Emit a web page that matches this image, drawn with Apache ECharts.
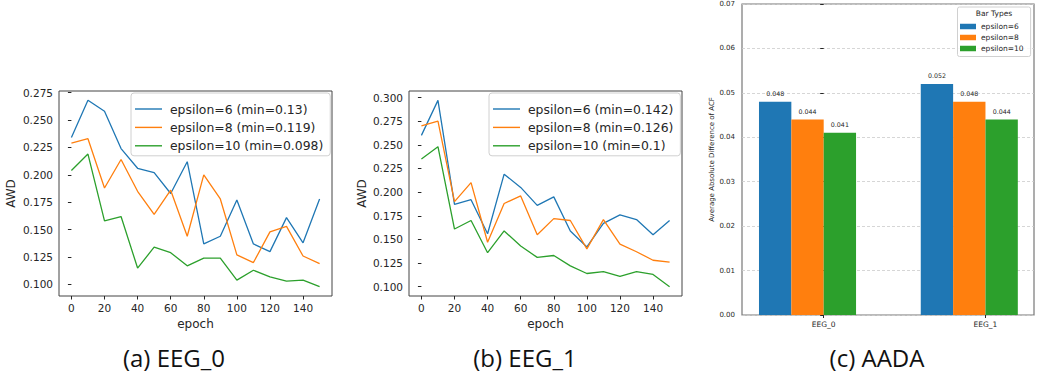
<!DOCTYPE html>
<html>
<head>
<meta charset="utf-8">
<style>
    html, body { margin: 0; padding: 0; background: #fff; }
    #chart { width: 1041px; height: 373px; }
</style>
<script src="https://cdn.jsdelivr.net/npm/echarts@6.0.0/dist/echarts.min.js"></script>
</head>
<body>
<div id="chart"></div>
<script>
    // epochs shared by (a) and (b)
    var epochs = [0, 10, 20, 30, 40, 50, 60, 70, 80, 90, 100, 110, 120, 130, 140, 150];

    // (a) EEG_0
    var eeg0Eps6 = [0.234, 0.268, 0.258, 0.224, 0.206, 0.202, 0.183, 0.212, 0.137, 0.144, 0.177, 0.137, 0.130, 0.161, 0.138, 0.178];
    var eeg0Eps8 = [0.229, 0.233, 0.188, 0.214, 0.185, 0.164, 0.186, 0.144, 0.200, 0.178, 0.127, 0.120, 0.148, 0.153, 0.126, 0.119];
    var eeg0Eps10 = [0.204, 0.219, 0.158, 0.162, 0.115, 0.134, 0.129, 0.117, 0.124, 0.124, 0.104, 0.113, 0.107, 0.103, 0.104, 0.098];

    // (b) EEG_1
    var eeg1Eps6 = [0.260, 0.297, 0.187, 0.192, 0.156, 0.219, 0.205, 0.186, 0.195, 0.159, 0.142, 0.167, 0.176, 0.171, 0.155, 0.170];
    var eeg1Eps8 = [0.270, 0.275, 0.190, 0.210, 0.147, 0.188, 0.196, 0.155, 0.172, 0.170, 0.140, 0.171, 0.145, 0.137, 0.128, 0.126];
    var eeg1Eps10 = [0.235, 0.248, 0.161, 0.170, 0.136, 0.159, 0.143, 0.131, 0.133, 0.122, 0.114, 0.116, 0.111, 0.116, 0.113, 0.100];

    // (c) AADA
    var aadaGroups = ['EEG_0', 'EEG_1'];
    var aadaEps6 = [0.048, 0.052];
    var aadaEps8 = [0.044, 0.048];
    var aadaEps10 = [0.041, 0.044];

    // tick labels
    var epochTicks = [0, 20, 40, 60, 80, 100, 120, 140];
    var awdTicks0 = [0.100, 0.125, 0.150, 0.175, 0.200, 0.225, 0.250, 0.275];
    var awdTicks1 = [0.100, 0.125, 0.150, 0.175, 0.200, 0.225, 0.250, 0.275, 0.300];
    var groupTicks = [0, 1];

    var colors = ['#1f77b4', '#ff7f0e', '#2ca02c'];
    var font = 'DejaVu Sans';
    var ink = '#262626';

    function minName(eps, arr) {
        return 'epsilon=' + eps + ' (min=' + Math.min.apply(null, arr) + ')';
    }
    function pairs(arr) {
        return epochs.map(function (e, i) { return [e, arr[i]]; });
    }
    function lineSeries(name, arr, color, idx) {
        return {
            name: name, type: 'line', xAxisIndex: idx, yAxisIndex: idx,
            data: pairs(arr), symbol: 'none', showSymbol: false,
            lineStyle: {color: color, width: 1.3}, itemStyle: {color: color},
            animation: false
        };
    }
    function epochAxis(idx) {
        return {
            type: 'value', gridIndex: idx, min: -7.5, max: 157.5,
            name: 'epoch', nameLocation: 'middle', nameGap: 17,
            nameTextStyle: {fontFamily: font, fontSize: 12, color: ink},
            axisLine: {show: false},
            axisTick: {show: true, length: 3.5, customValues: epochTicks, lineStyle: {color: ink}},
            axisLabel: {customValues: epochTicks, margin: 6, fontFamily: font, fontSize: 10.5, color: ink},
            splitLine: {show: false}
        };
    }
    function awdAxis(idx, min, max, ticks, gap) {
        return {
            type: 'value', gridIndex: idx, min: min, max: max,
            name: 'AWD', nameLocation: 'middle', nameGap: gap,
            nameTextStyle: {fontFamily: font, fontSize: 12, color: ink},
            axisLine: {show: false},
            axisTick: {show: true, length: 3.5, customValues: ticks, lineStyle: {color: ink}},
            axisLabel: {
                customValues: ticks, margin: 6, fontFamily: font, fontSize: 10.5, color: ink,
                formatter: function (v) { return v.toFixed(3); }
            },
            splitLine: {show: false}
        };
    }
    function lineLegend(names, left) {
        // plain line icons, like matplotlib legend handles
        return {
            data: names.map(function (n) { return {name: n, icon: 'rect'}; }),
            orient: 'vertical', left: left, top: 93,
            itemWidth: 27, itemHeight: 1.4, itemGap: 6.4,
            padding: [10, 7, 4, 4],
            borderColor: '#d0d0d0', borderWidth: 1, borderRadius: 3,
            backgroundColor: '#fff',
            textStyle: {fontFamily: font, fontSize: 12.4, color: ink, padding: [0, 0, 0, 3]}
        };
    }
    function barSeries(name, arr, color, offset) {
        return {
            name: name, type: 'custom', xAxisIndex: 2, yAxisIndex: 2,
            itemStyle: {color: color}, animation: false,
            data: arr.map(function (v, i) { return [i, v]; }),
            renderItem: function (params, api) {
                var x = api.value(0) + offset;
                var v = api.value(1);
                var tl = api.coord([x - 0.1, v]);
                var br = api.coord([x + 0.1, 0]);
                return {
                    type: 'group',
                    children: [{
                        type: 'rect',
                        shape: {x: tl[0], y: tl[1], width: br[0] - tl[0], height: br[1] - tl[1]},
                        style: {fill: color}
                    }, {
                        type: 'text', x: (tl[0] + br[0]) / 2, y: tl[1] - 5,
                        style: {
                            text: v.toFixed(3), fill: ink, fontFamily: font, fontSize: 6.3,
                            align: 'center', verticalAlign: 'bottom'
                        }
                    }]
                };
            }
        };
    }

    var names0 = [minName(6, eeg0Eps6), minName(8, eeg0Eps8), minName(10, eeg0Eps10)];
    var names1 = [minName(6, eeg1Eps6), minName(8, eeg1Eps8), minName(10, eeg1Eps10)];
    var barNames = ['epsilon=6', 'epsilon=8', 'epsilon=10'];

    var capStyle = {fontFamily: 'Open Sans', fontSize: 24, fontWeight: 'normal', color: '#111'};
    var gridFrame = {show: true, borderColor: '#444', borderWidth: 1, backgroundColor: '#fff'};
    var option = {
        animation: false,
        title: [
            {text: '(a) EEG_0', left: 169, top: 340, textAlign: 'center', textStyle: capStyle},
            {text: '(b) EEG_1', left: 520, top: 340, textAlign: 'center', textStyle: capStyle},
            {text: '(c) AADA', left: 872, top: 340, textAlign: 'center', textStyle: capStyle},
            {text: 'Bar Types', left: 994, top: 9, textAlign: 'center', z: 10, padding: 0,
                textStyle: {fontFamily: font, fontSize: 7.5, fontWeight: 'normal', color: ink}}
        ],
        grid: [
            Object.assign({left: 59, top: 91, width: 273, height: 205}, gridFrame),
            Object.assign({left: 409, top: 91, width: 273, height: 205}, gridFrame),
            Object.assign({left: 742, top: 4, width: 292, height: 311}, gridFrame, {borderColor: '#777', borderWidth: 1.2})
        ],
        xAxis: [
            epochAxis(0),
            epochAxis(1),
            {
                type: 'value', gridIndex: 2, min: -0.505, max: 1.30,
                axisLine: {show: false},
                axisTick: {show: true, length: 3, customValues: groupTicks, lineStyle: {color: ink}},
                axisLabel: {
                    customValues: groupTicks, margin: 5, fontFamily: font, fontSize: 7.5, color: ink,
                    formatter: function (v) { return aadaGroups[Math.round(v)]; }
                },
                splitLine: {show: false}
            }
        ],
        yAxis: [
            awdAxis(0, 0.0895, 0.2765, awdTicks0, 42),
            awdAxis(1, 0.0902, 0.3069, awdTicks1, 41),
            {
                type: 'value', gridIndex: 2, min: 0, max: 0.07, interval: 0.01,
                name: 'Average Absolute Difference of ACF', nameLocation: 'middle', nameGap: 27,
                nameTextStyle: {fontFamily: font, fontSize: 7, color: ink},
                axisLine: {show: false},
                axisTick: {show: true, length: 3.5, lineStyle: {color: ink}},
                axisLabel: {
                    margin: 7, fontFamily: font, fontSize: 7, color: ink,
                    formatter: function (v) { return v.toFixed(2); }
                },
                splitLine: {show: true, lineStyle: {color: '#cccccc', type: [3, 2], width: 0.8}}
            }
        ],
        legend: [
            lineLegend(names0, 131),
            lineLegend(names1, 489),
            {
                data: barNames.map(function (n) { return {name: n, icon: 'rect'}; }),
                orient: 'vertical', left: 957.5, top: 7,
                itemWidth: 16, itemHeight: 5.5, itemGap: 3,
                padding: [15.5, 7, 4, 2.5],
                borderColor: '#d0d0d0', borderWidth: 1, borderRadius: 2,
                backgroundColor: 'rgba(255,255,255,0.85)',
                textStyle: {fontFamily: font, fontSize: 7.5, color: ink}
            }
        ],
        series: [
            lineSeries(names0[0], eeg0Eps6, colors[0], 0),
            lineSeries(names0[1], eeg0Eps8, colors[1], 0),
            lineSeries(names0[2], eeg0Eps10, colors[2], 0),
            lineSeries(names1[0], eeg1Eps6, colors[0], 1),
            lineSeries(names1[1], eeg1Eps8, colors[1], 1),
            lineSeries(names1[2], eeg1Eps10, colors[2], 1),
            barSeries(barNames[0], aadaEps6, colors[0], -0.3),
            barSeries(barNames[1], aadaEps8, colors[1], -0.1),
            barSeries(barNames[2], aadaEps10, colors[2], 0.1)
        ]
    };

    var myChart = echarts.init(document.getElementById('chart'), null, {renderer: 'svg'});
    myChart.setOption(option);
</script>
</body>
</html>
